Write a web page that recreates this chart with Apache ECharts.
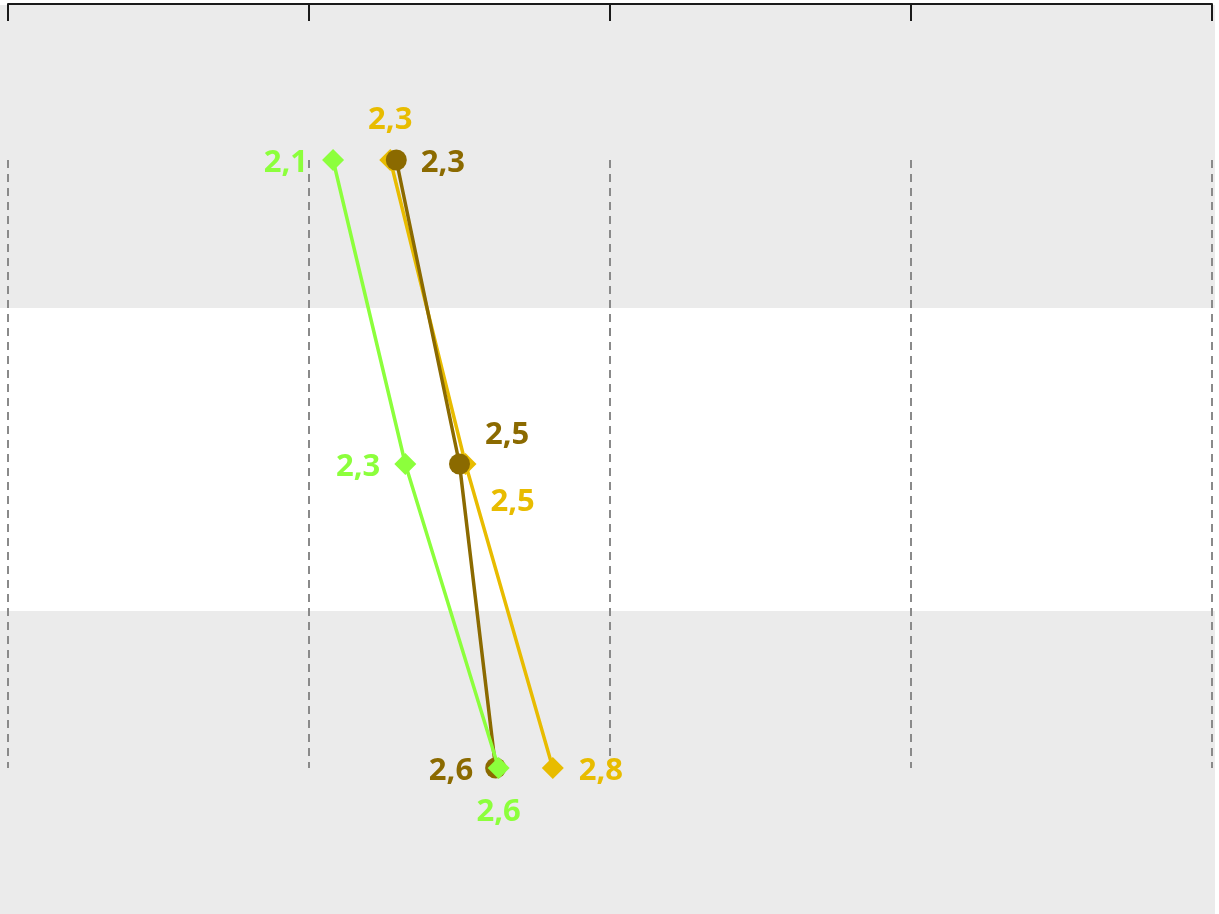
<!DOCTYPE html>
<html>
<head>
<meta charset="utf-8">
<script src="https://cdn.jsdelivr.net/npm/echarts@6/dist/echarts.min.js"></script>
<style>
html,body{margin:0;padding:0;background:#fff;}
#chart{width:1219px;height:914px;}
</style>
</head>
<body>
<div id="chart"></div>
<script>
// ---- data ----
const categories = ['A', 'B', 'C'];
const greenValues = [2.08, 2.32, 2.63];
const yellowValues = [2.27, 2.52, 2.81];
const brownValues = [2.29, 2.50, 2.62];
const axisMin = 1;
const axisMax = 5;
const axisInterval = 1;

// ---- styling ----
const GREEN = '#8CFF3C';
const YELLOW = '#E8BC00';
const BROWN = '#8B6A00';
const FONT = { fontFamily: 'Open Sans', fontWeight: 'bold', fontSize: 31 };

function buildData(values, labelCfgs, color) {
  return values.map((v, i) => ({
    value: [v, categories[i]],
    label: Object.assign({ show: true, color: color, formatter: v.toFixed(1).replace('.', ',') }, FONT, labelCfgs[i])
  }));
}

const greenLabels = [
  { position: 'left', distance: 14, offset: [0, 3] },
  { position: 'left', distance: 14, offset: [0, 3] },
  { position: 'bottom', distance: 18 }
];
const yellowLabels = [
  { position: 'top', distance: 13 },
  { position: 'right', distance: 14, offset: [0, 38] },
  { position: 'right', distance: 15, offset: [0, 3] }
];
const brownLabels = [
  { position: 'right', distance: 14, offset: [0, 3] },
  { position: 'right', distance: 15, offset: [0, -29] },
  { position: 'left', distance: 12, offset: [0, 3] }
];

const chart = echarts.init(document.getElementById('chart'), null, { renderer: 'canvas' });
chart.setOption({
  animation: false,
  backgroundColor: '#ffffff',
  grid: [
    { left: 8, right: 7, top: 160, height: 608 },
    { left: 0, right: 4, top: 5, height: 912 }
  ],
  xAxis: [
    {
      gridIndex: 0, type: 'value', position: 'top', offset: 156,
      min: axisMin, max: axisMax, interval: axisInterval,
      axisLine: { show: true, lineStyle: { color: '#1a1a1a', width: 2 } },
      axisTick: { show: true, inside: true, length: 17, lineStyle: { color: '#1a1a1a', width: 2 } },
      axisLabel: { show: false },
      splitLine: { show: true, lineStyle: { color: '#8a8a8a', width: 2, type: [8, 6] } }
    },
    { gridIndex: 1, type: 'value', show: false, min: 0, max: 1 }
  ],
  yAxis: [
    {
      gridIndex: 0, type: 'category', data: categories, inverse: true, boundaryGap: false,
      show: false
    },
    {
      gridIndex: 1, type: 'category', data: categories, inverse: true,
      axisLine: { show: false }, axisTick: { show: false }, axisLabel: { show: false },
      splitLine: { show: false },
      splitArea: { show: true, areaStyle: { color: ['#EBEBEB', '#FFFFFF'] } }
    }
  ],
  series: [
    {
      type: 'line', xAxisIndex: 0, yAxisIndex: 0, clip: false,
      symbol: 'diamond', symbolSize: 22,
      itemStyle: { color: YELLOW }, lineStyle: { color: YELLOW, width: 3.5 },
      data: buildData(yellowValues, yellowLabels, YELLOW), z: 2
    },
    {
      type: 'line', xAxisIndex: 0, yAxisIndex: 0, clip: false,
      symbol: 'circle', symbolSize: 21,
      itemStyle: { color: BROWN }, lineStyle: { color: BROWN, width: 3.5 },
      data: buildData(brownValues, brownLabels, BROWN), z: 3
    },
    {
      type: 'line', xAxisIndex: 0, yAxisIndex: 0, clip: false,
      symbol: 'diamond', symbolSize: 22,
      itemStyle: { color: GREEN }, lineStyle: { color: GREEN, width: 3.5 },
      data: buildData(greenValues, greenLabels, GREEN), z: 4
    }
  ]
});
</script>
</body>
</html>
